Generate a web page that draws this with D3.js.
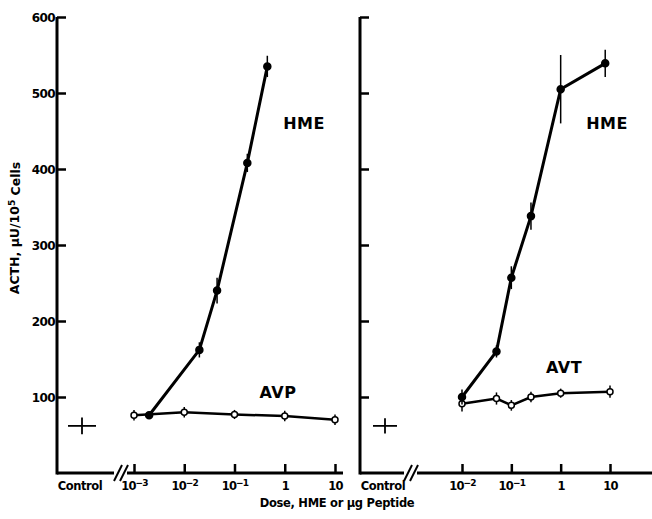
<!DOCTYPE html>
<html><head><meta charset="utf-8">
<script src="https://cdn.jsdelivr.net/npm/d3@7"></script>
<style>
body{margin:0;background:#fff;}
svg text{font-family:"DejaVu Sans",sans-serif;font-weight:bold;fill:#000;}
</style></head>
<body><svg id="c" width="652" height="519"></svg>
<script>
// ---- data ----
const yTicks = [100, 200, 300, 400, 500, 600];
const leftDoseTicks = [0.001, 0.01, 0.1, 1, 10];
const leftDoseLabels = [["10","−3"],["10","−2"],["10","−1"],["1",""],["10",""]];
const rightDoseTicks = [0.01, 0.1, 1, 10];
const rightDoseLabels = [["10","−2"],["10","−1"],["1",""],["10",""]];

const controlValue = [62, 62];     // left, right panel
const controlErr = [11, 10];

const avpDose = [0.001, 0.01, 0.1, 1, 10];
const avpValue = [76, 80, 77, 75, 70];
const avpErr = [7, 7, 6, 7, 7];

const hmeLDose = [0.002, 0.02, 0.045, 0.18, 0.45];
const hmeLValue = [76, 162, 240, 408, 535];
const hmeLErr = [4, 10, 17, 12, 14];

const avtDose = [0.01, 0.05, 0.1, 0.25, 1, 10];
const avtValue = [91, 98, 89, 100, 105, 107];
const avtErr = [10, 8, 7, 7, 6, 8];

const hmeRDose = [0.01, 0.05, 0.1, 0.25, 1, 8];
const hmeRValue = [100, 160, 257, 338, 505, 539];
const hmeRErr = [10, 8, 15, 18, 45, 18];

// ---- drawing ----
const svg = d3.select("#c");
const y = d3.scaleLinear().domain([0, 600]).range([473, 17]);

const panels = [
  {axisX: 57, x: d3.scaleLog().domain([0.001, 10]).range([134, 335]),
   ticks: leftDoseTicks, labels: leftDoseLabels, showY: true,
   controlX: 82, crossHalf: 14, breakX: 114, axisEnd: 343,
   series: [
     {d: avpDose, v: avpValue, e: avpErr, open: true, label: "AVP", lx: 278, ly: 398},
     {d: hmeLDose, v: hmeLValue, e: hmeLErr, open: false, label: "HME", lx: 304, ly: 129}
   ], ci: 0},
  {axisX: 360, x: d3.scaleLog().domain([0.01, 10]).range([462, 610]),
   ticks: rightDoseTicks, labels: rightDoseLabels, showY: false,
   controlX: 385, crossHalf: 12, breakX: 404, axisEnd: 652,
   series: [
     {d: avtDose, v: avtValue, e: avtErr, open: true, label: "AVT", lx: 564, ly: 373},
     {d: hmeRDose, v: hmeRValue, e: hmeRErr, open: false, label: "HME", lx: 607, ly: 129}
   ], ci: 1}
];

panels.forEach(p => {
  const g = svg.append("g");
  // y axis
  const ya = d3.axisLeft(y).tickValues(yTicks).tickSizeInner(-9).tickSizeOuter(0).tickPadding(2)
    .tickFormat(p.showY ? d3.format("d") : () => "");
  const yg = g.append("g").attr("transform", `translate(${p.axisX},0)`).call(ya);
  yg.select(".domain").attr("d", `M0,${y(600)}V${y(0)+1.5}`).attr("stroke", "#000").attr("stroke-width", 3);
  yg.selectAll(".tick line").attr("stroke", "#000").attr("stroke-width", 2.5);
  yg.selectAll(".tick text").attr("font-size", 12).attr("dy", "0.36em").attr("letter-spacing", "-0.6").attr("fill", "#000");
  yg.selectAll("text").style("font-family", "DejaVu Sans").style("font-weight", "bold");

  // x axis: left segment, break, right segment with ticks
  g.append("line").attr("x1", p.axisX).attr("x2", p.breakX).attr("y1", y(0)).attr("y2", y(0))
    .attr("stroke", "#000").attr("stroke-width", 3);
  [0, 6].forEach(o => g.append("line")
    .attr("x1", p.breakX + o).attr("y1", y(0) + 8).attr("x2", p.breakX + o + 8).attr("y2", y(0) - 8)
    .attr("stroke", "#000").attr("stroke-width", 2));
  const xa = d3.axisBottom(p.x).tickValues(p.ticks).tickSizeInner(-9).tickSizeOuter(0).tickPadding(7)
    .tickFormat(() => "");
  const xg = g.append("g").attr("transform", `translate(0,${y(0)})`).call(xa);
  xg.select(".domain").attr("d", `M${p.breakX + 13},0H${p.axisEnd}`).attr("stroke", "#000").attr("stroke-width", 3);
  xg.selectAll(".tick line").attr("stroke", "#000").attr("stroke-width", 2.5);
  xg.selectAll(".tick text").each(function(_, i) {
    const t = d3.select(this).attr("font-size", 11.5).attr("dy", "0.85em").attr("letter-spacing", "-0.8").attr("fill", "#000");
    t.style("font-family", "DejaVu Sans").style("font-weight", "bold");
    t.append("tspan").text(p.labels[i][0]);
    if (p.labels[i][1]) t.append("tspan").attr("dy", "-0.4em").attr("font-size", 9).text(p.labels[i][1]);
  });

  // control label and cross
  g.append("text").attr("x", p.controlX - 2).attr("y", y(0) + 17).attr("text-anchor", "middle")
    .attr("font-size", 11.5).attr("letter-spacing", "-0.4").text("Control");
  const cv = controlValue[p.ci], ce = controlErr[p.ci];
  g.append("line").attr("x1", p.controlX - p.crossHalf).attr("x2", p.controlX + p.crossHalf)
    .attr("y1", y(cv)).attr("y2", y(cv)).attr("stroke", "#000").attr("stroke-width", 1.8);
  g.append("line").attr("x1", p.controlX).attr("x2", p.controlX)
    .attr("y1", y(cv - ce)).attr("y2", y(cv + ce)).attr("stroke", "#000").attr("stroke-width", 1.8);

  // series
  p.series.forEach(s => {
    const pts = s.d.map((d, i) => ({x: p.x(d), v: s.v[i], e: s.e[i]}));
    g.append("path").datum(pts)
      .attr("d", d3.line().x(q => q.x).y(q => y(q.v)))
      .attr("fill", "none").attr("stroke", "#000").attr("stroke-width", s.open ? 2.5 : 3);
    g.selectAll(null).data(pts).enter().append("line")
      .attr("x1", q => q.x).attr("x2", q => q.x)
      .attr("y1", q => y(q.v - q.e)).attr("y2", q => y(q.v + q.e))
      .attr("stroke", "#000").attr("stroke-width", 1.5);
    g.selectAll(null).data(pts).enter().append("circle")
      .attr("cx", q => q.x).attr("cy", q => y(q.v)).attr("r", s.open ? 3 : 3.5)
      .attr("fill", s.open ? "#fff" : "#000").attr("stroke", "#000").attr("stroke-width", 1.5);
    g.append("text").attr("x", s.lx).attr("y", s.ly).attr("text-anchor", "middle")
      .attr("font-size", 16).attr("letter-spacing", "0.5").text(s.label);
  });
});

// axis titles
svg.append("text").attr("x", 337).attr("y", 507).attr("text-anchor", "middle")
  .attr("font-size", 11.5).attr("letter-spacing", "-0.3").text("Dose, HME or μg Peptide");
const yl = svg.append("text").attr("transform", "translate(19,228) rotate(-90)")
  .attr("text-anchor", "middle").attr("font-size", 12.5);
yl.append("tspan").text("ACTH, μU/10");
yl.append("tspan").attr("dy", "-0.4em").attr("font-size", 9).text("5");
yl.append("tspan").attr("dy", "0.4em").text(" Cells");
</script></body></html>
